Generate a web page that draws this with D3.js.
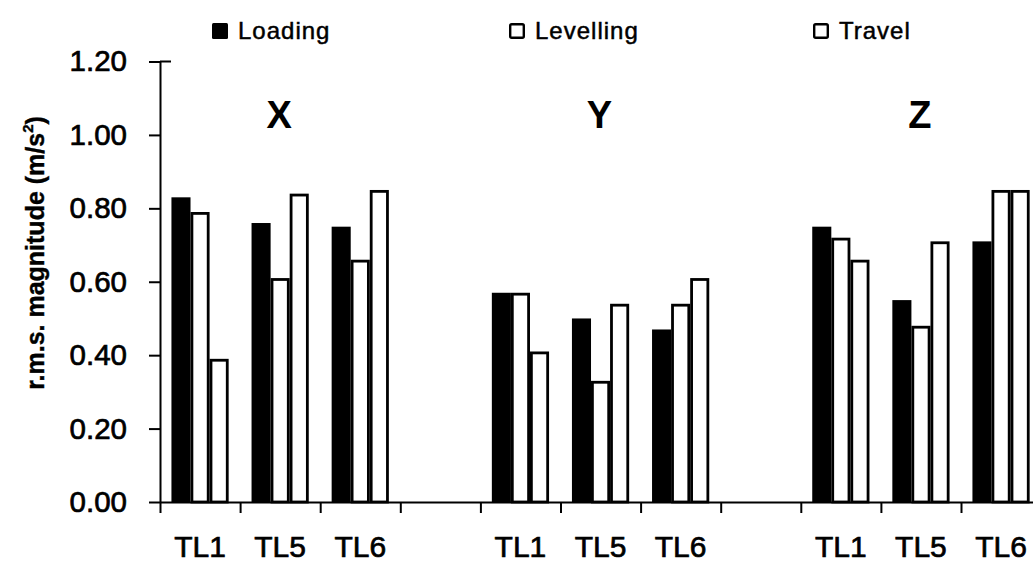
<!DOCTYPE html>
<html>
<head>
<meta charset="utf-8">
<script src="https://cdn.jsdelivr.net/npm/d3@7/dist/d3.min.js"></script>
<style>
  html, body { margin: 0; padding: 0; background: #fff; }
  svg { display: block; }
  text { font-family: "Liberation Sans", Arial, sans-serif; fill: #000; }
  .heavy { stroke: #000; stroke-width: 0.7px; }
</style>
</head>
<body>
<svg id="chart" width="1033" height="564"></svg>
<script>
// Axis directions shown as panel titles
const directions = ["X", "Y", "Z"];
// Machines measured in each direction
const sites = ["TL1", "TL5", "TL6"];
// Operating modes (series)
const series = ["Loading", "Levelling", "Travel"];

// r.m.s. magnitudes (m/s²), ordered X:TL1,TL5,TL6, Y:TL1,TL5,TL6, Z:TL1,TL5,TL6
const loading   = [0.83, 0.76, 0.75,  0.57, 0.50, 0.47,  0.75, 0.55, 0.71];
const levelling = [0.79, 0.61, 0.66,  0.57, 0.33, 0.54,  0.72, 0.48, 0.85];
const travel    = [0.39, 0.84, 0.85,  0.41, 0.54, 0.61,  0.66, 0.71, 0.85];

// Y-axis tick values
const yTicks = [0.00, 0.20, 0.40, 0.60, 0.80, 1.00, 1.20];

const seriesValues = { Loading: loading, Levelling: levelling, Travel: travel };

const svg = d3.select("#chart");

// Each direction takes three category slots plus one empty slot between groups
const slotCount = directions.length * (sites.length + 1) - 1;
const slots = [];
directions.forEach((dir, g) => {
  sites.forEach((site, s) => {
    slots.push({ slot: g * (sites.length + 1) + s, dir, site, idx: g * sites.length + s });
  });
});

const plotLeft = 160, plotTop = 61.5, plotBottom = 502;
const step = 80.1;

const x = d3.scaleBand()
  .domain(d3.range(slotCount))
  .range([plotLeft, plotLeft + step * slotCount])
  .paddingInner(0).paddingOuter(0);

const xInner = d3.scaleBand()
  .domain(series)
  .range([0, x.bandwidth()])
  .paddingInner(0).paddingOuter(0.6);

const y = d3.scaleLinear().domain([0, 1.2]).range([plotBottom, plotTop]);

// Bar styles per series
const styles = {
  Loading:   { fill: "#000", sw: 0 },
  Levelling: { fill: "#fff", sw: 2.8 },
  Travel:    { fill: "#fff", sw: 2.8 }
};

const barData = [];
slots.forEach(d => {
  series.forEach(s => {
    barData.push({ slot: d.slot, series: s, value: seriesValues[s][d.idx] });
  });
});

svg.append("g").selectAll("rect")
  .data(barData)
  .join("rect")
  .attr("x", d => x(d.slot) + xInner(d.series) + styles[d.series].sw / 2)
  .attr("y", d => y(d.value) + styles[d.series].sw / 2)
  .attr("width", d => xInner.bandwidth() - styles[d.series].sw)
  .attr("height", d => y(0) - y(d.value) - styles[d.series].sw / 2)
  .attr("fill", d => styles[d.series].fill)
  .attr("stroke", d => styles[d.series].sw ? "#000" : "none")
  .attr("stroke-width", d => styles[d.series].sw);

// Y axis
const yAxis = d3.axisLeft(y)
  .tickValues(yTicks)
  .tickFormat(d3.format(".2f"))
  .tickSizeInner(11)
  .tickSizeOuter(0)
  .tickPadding(22);

const gy = svg.append("g")
  .attr("transform", `translate(${plotLeft},0)`)
  .call(yAxis);
gy.select(".domain").attr("stroke", "#000").attr("stroke-width", 2);
gy.selectAll(".tick line").attr("stroke", "#000").attr("stroke-width", 2);
gy.selectAll(".tick text")
  .attr("class", "heavy")
  .attr("font-size", 29.5)
  .attr("font-family", "'Liberation Sans', Arial, sans-serif")
  .attr("fill", "#000");

// Top tick crosses the axis
svg.append("line")
  .attr("x1", plotLeft).attr("x2", plotLeft + 11)
  .attr("y1", y(1.2)).attr("y2", y(1.2))
  .attr("stroke", "#000").attr("stroke-width", 2);

// X axis with tick marks between categories
const xEdges = d3.scaleLinear().domain([0, slotCount]).range(x.range());
const xAxis = d3.axisBottom(xEdges)
  .tickValues(d3.range(slotCount + 1))
  .tickFormat("")
  .tickSizeInner(11)
  .tickSizeOuter(0);
const gx = svg.append("g")
  .attr("transform", `translate(0,${plotBottom})`)
  .call(xAxis);
gx.select(".domain").attr("stroke", "#000").attr("stroke-width", 2);
gx.selectAll(".tick line").attr("stroke", "#000").attr("stroke-width", 2);

// Category labels
svg.append("g").selectAll("text")
  .data(slots)
  .join("text")
  .attr("class", "heavy")
  .attr("x", d => x(d.slot) + x.bandwidth() / 2)
  .attr("y", 557)
  .attr("text-anchor", "middle")
  .attr("font-size", 30)
  .text(d => d.site);

// Direction titles, centred over the middle machine of each group
svg.append("g").selectAll("text")
  .data(directions)
  .join("text")
  .attr("x", (d, g) => x(g * (sites.length + 1) + 1) + x.bandwidth() / 2 - 1)
  .attr("y", 128)
  .attr("text-anchor", "middle")
  .attr("font-size", 38)
  .attr("font-weight", "bold")
  .text(d => d);

// Y-axis title
const yTitle = svg.append("text")
  .attr("class", "heavy")
  .attr("transform", "translate(44,253) rotate(-90)")
  .attr("text-anchor", "middle")
  .attr("font-size", 25)
  .attr("font-weight", "bold")
  .style("stroke-width", "0.4px");
yTitle.append("tspan").text("r.m.s. magnitude (m/s");
yTitle.append("tspan").attr("font-size", 15).attr("dy", -11).text("2");
yTitle.append("tspan").attr("dy", 11).text(")");

// Legend
const legendX = [212, 509, 813];
const legend = svg.append("g").selectAll("g")
  .data(series)
  .join("g")
  .attr("transform", (d, i) => `translate(${legendX[i]},23)`);

legend.append("rect")
  .attr("x", d => styles[d].sw ? 1.2 : 0)
  .attr("y", d => styles[d].sw ? 1.2 : 0)
  .attr("width", d => styles[d].sw ? 13.6 : 16)
  .attr("height", d => styles[d].sw ? 13.6 : 16)
  .attr("rx", 1.5)
  .attr("fill", d => styles[d].fill)
  .attr("stroke", d => styles[d].sw ? "#000" : "none")
  .attr("stroke-width", 2.4);

legend.append("text")
  .attr("class", "heavy")
  .attr("x", 26)
  .attr("y", 15.5)
  .attr("font-size", 24)
  .attr("letter-spacing", 1)
  .style("stroke-width", "0.5px")
  .text(d => d);
</script>
</body>
</html>
